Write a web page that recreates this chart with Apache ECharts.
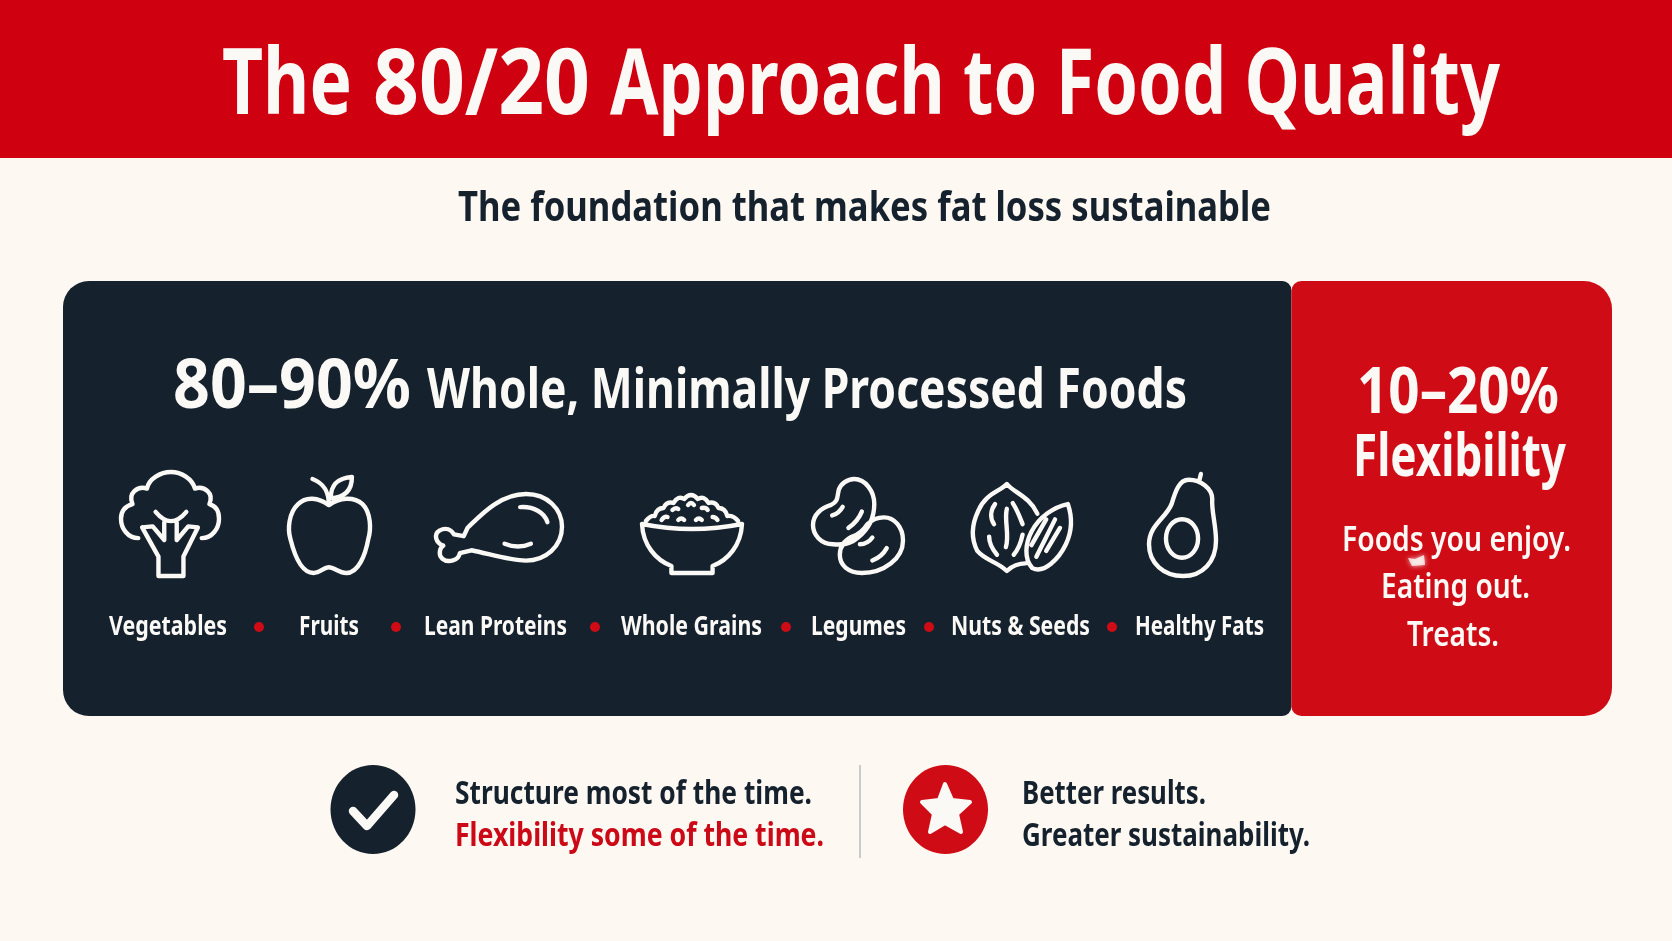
<!DOCTYPE html>
<html>
<head>
<meta charset="utf-8">
<title>The 80/20 Approach to Food Quality</title>
<script src="https://cdn.jsdelivr.net/npm/echarts@6/dist/echarts.min.js"></script>
<style>
html,body{margin:0;padding:0;background:#fdf8f2}
#main{width:1672px;height:941px}
</style>
</head>
<body>
<div id="main"></div>
<script>
var shareNames = ['Whole, Minimally Processed Foods', 'Flexibility'];
var shareValues = [79.3, 20.7];
var foodNames = ['Vegetables', 'Fruits', 'Lean Proteins', 'Whole Grains', 'Legumes', 'Nuts & Seeds', 'Healthy Fats'];

var NAVY = '#15222e', RED = '#cf0010', PANEL_RED = '#cf0c16', CREAM = '#fdf8f2', WHITE = '#fbf9f6';
var FONT = '"Noto Sans"';

// icon outlines, drawn in page pixels
var iconPaths = [
  // broccoli
  'M137 538C126 538 119 528 119 518C119 510 124 505 131 503C126 492 136 484 146 487C148 477 160 470 171 470C182 470 193 477 196 487C206 484 216 492 211 503C218 505 221 510 221 518C221 528 214 538 203 538' +
  'M141 527L158 557V577H184V557L199 527L189 526L177 540V522M141 527L152 526L164 540V522M155 511Q171 530 187 511',
  // apple
  'M329 505C318 497 305 496 297 504C287 513 286 530 289 540C293 556 300 575 313 575C320 575 324 569 329 569C334 569 340 575 347 575C360 575 367 556 370 540C373 530 373 513 364 504C355 496 340 497 329 505Z' +
  'M329 505C329 492 325 483 312 478M331 498C331 482 340 477 353 476C353 490 345 497 331 498Z',
  // chicken leg
  'M467 528C480 515 500 492 527 492C549 492 564 508 564 527C564 548 547 563 527 563C510 563 490 556 471 552L459 555C458 563 447 566 441 561C436 556 439 549 442 547C434 544 432 535 438 531C445 527 450 530 453 535L463 537Z' +
  'M521 506C535 505 546 512 549 522M505 545Q519 551 532 545',
  // bowl of grains
  'M641 524C642 545 655 560 671 566V573H713V566C729 560 742 545 743 524M641 524Q692 534 743 524' +
  'M645 521Q650 515 654 516Q656 508 663 508Q666 501 673 503Q678 495 684 499Q691 491 698 499Q704 495 709 503Q716 501 719 508Q726 508 728 516Q734 515 739 521' +
  'M661 520Q664 516 667 517M678 520Q681 517 684 520M696 520Q699 517 702 520M713 517Q716 517 718 520M672 510Q675 507 678 509M688 505Q691 501 694 505M702 508Q706 507 708 510',
  // beans
  'M854 477C866 477 875 490 875 503C875 520 868 530 858 538C850 545 840 546 832 545C819 545 811 535 811 525C811 514 820 507 830 504C838 500 836 495 838 488C840 482 847 477 854 477Z' +
  'M885 517C896 517 905 527 905 541C905 560 885 575 862 575C848 575 839 567 839 556C839 546 846 540 852 537C860 535 864 530 868 524C873 519 880 517 885 517Z' +
  'M831 515Q838 513 842 506M848 528Q858 521 862 511M860 545Q868 545 873 538M873 562Q883 558 888 549',
  // walnut and almond
  'M1026 565C1020 565 1012 568 1007 573C997 563 985 562 977 552C971 540 971 525 978 510C985 492 1000 490 1007 482C1014 491 1030 495 1038 513' +
  'M1069 503C1055 506 1040 516 1032 532C1026 544 1024 560 1033 570C1045 576 1060 560 1067 545C1073 532 1074 518 1069 503Z' +
  'M1007 508C1004 520 1010 535 1006 548M995 503C990 510 990 518 994 524M1013 502C1018 510 1020 516 1023 524M989 537C989 545 992 550 997 556M1023 535C1021 545 1019 550 1014 556' +
  'M1037 558L1056 519M1047 552L1061 528M1032 546L1047 519',
  // avocado
  'M1189 478C1179 478 1175 490 1171 503C1165 518 1147 525 1147 545C1147 565 1163 578 1183 578C1204 578 1218 563 1218 541C1218 525 1213 510 1214 498C1214 487 1202 478 1189 478Z' +
  'M1200 480L1202 472M1182 519A17 20 0 1 1 1182 559A17 20 0 1 1 1182 519Z'
];
var iconRects = [
  [121, 472, 98, 104], [289, 477, 81, 96], [436, 494, 126, 67], [642, 495, 100, 78],
  [813, 479, 90, 94], [973, 484, 98, 87], [1149, 474, 67, 102]
];

// canvas used only to get the natural text width, the source lettering is condensed
var ctx = document.createElement('canvas').getContext('2d');
function txt(str, left, right, baseline, size, color, weight) {
  ctx.font = weight + ' ' + size + 'px ' + FONT;
  var w = ctx.measureText(str).width;
  return {
    type: 'text',
    x: (left + right) / 2,
    y: baseline - size * 0.29,
    scaleX: (right - left) / w,
    z: 100,
    style: {
      text: str, fill: color,
      font: weight + ' ' + size + 'px ' + FONT,
      textAlign: 'center', textVerticalAlign: 'middle'
    }
  };
}
function dot(x) {
  return {type: 'circle', z: 100, shape: {cx: x, cy: 627, r: 5}, style: {fill: '#cf0c16'}};
}

var chart = echarts.init(document.getElementById('main'), null, {renderer: 'canvas'});

var graphics = [
  {type: 'rect', z: 1, shape: {x: 0, y: 0, width: 1672, height: 158}, style: {fill: RED}},
  txt('The', 222, 352, 114, 92, WHITE, 700),
  txt('80/20', 373, 590, 114, 92, WHITE, 700),
  txt('Approach to Food Quality', 610, 1500, 114, 92, WHITE, 700),
  txt('The foundation that makes fat loss sustainable', 458, 1271, 221, 42, NAVY, 700),

  txt('80–90%', 173, 411, 408, 68, WHITE, 700),
  txt(shareNames[0], 427, 1187, 408, 56, WHITE, 700),
  txt('10–20%', 1357, 1559, 413, 64, WHITE, 700),
  txt(shareNames[1], 1353, 1566, 476, 60, WHITE, 700),
  txt('Foods you enjoy.', 1342, 1571, 551, 34, WHITE, 600),
  txt('Eating out.', 1381, 1530, 598, 34, WHITE, 600),
  txt('Treats.', 1407, 1499, 646, 34, WHITE, 600),
  // little smudge between the first two lines of the red panel
  {type: 'polygon', z: 100, shape: {points: [[1408, 558], [1415, 559], [1424, 555], [1425, 565], [1412, 566]]},
    style: {fill: WHITE, opacity: 0.8, shadowBlur: 5, shadowColor: WHITE}},

  txt(foodNames[0], 109, 227, 635, 27, WHITE, 700),
  txt(foodNames[1], 299, 359, 635, 27, WHITE, 700),
  txt(foodNames[2], 424, 567, 635, 27, WHITE, 700),
  txt(foodNames[3], 621, 762, 635, 27, WHITE, 700),
  txt(foodNames[4], 811, 906, 635, 27, WHITE, 700),
  txt(foodNames[5], 951, 1090, 635, 27, WHITE, 700),
  txt(foodNames[6], 1135, 1264, 635, 27, WHITE, 700),
  dot(259), dot(396), dot(595), dot(786), dot(929), dot(1112),

  {type: 'ellipse', z: 100, shape: {cx: 373, cy: 809.5, rx: 42.5, ry: 44.5}, style: {fill: NAVY}},
  {type: 'polyline', z: 101, shape: {points: [[353, 811], [367, 826], [394, 795]]},
    style: {stroke: WHITE, lineWidth: 8.5, fill: 'none', lineCap: 'round', lineJoin: 'round'}},
  txt('Structure most of the time.', 455, 812, 804, 33, NAVY, 700),
  txt('Flexibility some of the time.', 455, 824, 846, 33, '#cc0a17', 700),
  {type: 'line', z: 100, shape: {x1: 860, y1: 765, x2: 860, y2: 858}, style: {stroke: '#b8bcbe', lineWidth: 1.5}},
  {type: 'ellipse', z: 100, shape: {cx: 945.5, cy: 809.5, rx: 42.5, ry: 44.5}, style: {fill: '#cf0c16'}},
  {type: 'polygon', z: 101, shape: {points: [[945, 784], [952, 800], [970, 802], [957, 814], [961, 832], [945, 823], [930, 832], [934, 814], [922, 802], [939, 800]]},
    style: {fill: WHITE, stroke: WHITE, lineWidth: 4, lineJoin: 'round'}},
  txt('Better results.', 1022, 1206, 804, 33, NAVY, 700),
  txt('Greater sustainability.', 1022, 1310, 846, 33, NAVY, 700)
];

var option = {
  animation: false,
  backgroundColor: CREAM,
  grid: {left: 63, top: 281, width: 1549, height: 435},
  xAxis: {type: 'value', min: 0, max: 100, show: false},
  yAxis: {type: 'category', data: ['Food quality'], show: false},
  graphic: graphics,
  series: [
    {
      name: shareNames[0], type: 'bar', stack: 'share', barWidth: '100%',
      itemStyle: {color: NAVY, borderRadius: [26, 9, 9, 26]},
      data: [shareValues[0]]
    },
    {
      name: shareNames[1], type: 'bar', stack: 'share', barWidth: '100%',
      itemStyle: {color: PANEL_RED, borderRadius: [10, 28, 28, 10]},
      data: [shareValues[1]]
    },
    {
      type: 'custom', coordinateSystem: 'none', z: 50,
      data: foodNames.map(function (n, i) { return i; }),
      renderItem: function (params) {
        var r = iconRects[params.dataIndex];
        return {
          type: 'path',
          shape: {pathData: iconPaths[params.dataIndex], x: r[0], y: r[1], width: r[2], height: r[3], layout: 'cover'},
          style: {fill: 'none', stroke: WHITE, lineWidth: 4.4, lineCap: 'round', lineJoin: 'round'}
        };
      }
    }
  ]
};

chart.setOption(option);
</script>
</body>
</html>
